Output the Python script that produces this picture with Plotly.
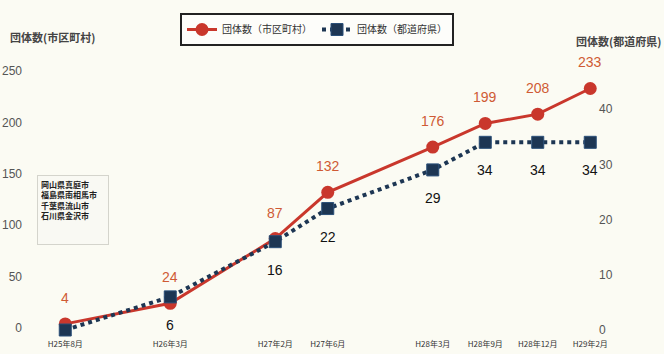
import plotly.graph_objects as go

# Survey points (category slots; blank slots keep the uneven spacing)
slots = ["H25年8月", "gap1", "H26年3月", "gap2", "H27年2月", "H27年6月", "gap3",
         "H28年3月", "H28年9月", "H28年12月", "H29年2月"]
periods = ["H25年8月", "H26年3月", "H27年2月", "H27年6月",
           "H28年3月", "H28年9月", "H28年12月", "H29年2月"]
municipalities = [4, 24, 87, 132, 176, 199, 208, 233]   # 団体数（市区町村）
prefectures = [0, 6, 16, 22, 29, 34, 34, 34]            # 団体数（都道府県）

left_ticks = [0, 50, 100, 150, 200, 250]
right_ticks = [0, 10, 20, 30, 40]

note_lines = ["岡山県真庭市", "福島県南相馬市", "千葉県流山市", "石川県金沢市"]

RED = "#c9372c"
RED_TXT = "#cf5a34"
NAVY = "#1d3653"
BG = "#fbfbf3"
NUM_FONT = "Liberation Sans, Arial, sans-serif"
JP_FONT = "Noto Sans CJK JP, sans-serif"

L, R, T, B = 39, 66, 40, 16
W, H = 664, 354
pw, ph = W - L - R, H - T - B
SLOT = 52.5  # pixel width of one category slot


def px_x(px):
    return (px - L) / pw


def px_y(py):
    return (H - B - py) / ph


fig = go.Figure()

fig.add_trace(go.Scatter(
    x=periods, y=municipalities, name="団体数（市区町村）",
    mode="lines+markers",
    line=dict(color=RED, width=3),
    marker=dict(symbol="circle", size=13, color=RED),
    cliponaxis=False,
))
fig.add_trace(go.Scatter(
    x=periods, y=prefectures, name="団体数（都道府県）", yaxis="y2",
    mode="lines+markers",
    line=dict(color=NAVY, width=4, dash="dot"),
    marker=dict(symbol="square", size=12, color=NAVY,
                line=dict(color="#2a4f78", width=1)),
    cliponaxis=False,
))

annotations = []
for p, v in zip(periods, municipalities):
    annotations.append(dict(
        x=p, y=v, xref="x", yref="y", text=str(v), showarrow=False,
        yshift=26, font=dict(family=NUM_FONT, size=14, color=RED_TXT)))
for p, v in list(zip(periods, prefectures))[1:]:
    annotations.append(dict(
        x=p, y=v, xref="x", yref="y2", text=str(v), showarrow=False,
        yshift=-28, font=dict(family=NUM_FONT, size=14, color="#111111")))

# axis titles
annotations.append(dict(
    x=px_x(8), y=px_y(37), xref="paper", yref="paper", xanchor="left",
    yanchor="middle", text="<b>団体数(市区町村)</b>", showarrow=False,
    font=dict(family=JP_FONT, size=11, color="#444444")))
annotations.append(dict(
    x=px_x(663), y=px_y(41), xref="paper", yref="paper", xanchor="right",
    yanchor="middle", text="<b>団体数(都道府県)</b>", showarrow=False,
    font=dict(family=JP_FONT, size=11, color="#444444")))

# note box
annotations.append(dict(
    x=px_x(37), y=px_y(175), xref="paper", yref="paper", xanchor="left",
    yanchor="top", text="<br>".join("<b>%s</b>" % s for s in note_lines),
    showarrow=False, align="left", valign="top", width=64, height=62,
    borderpad=3, bordercolor="#d4d4cc", borderwidth=1, bgcolor="#f9f9f3",
    font=dict(family=JP_FONT, size=8, color="#222222")))

x_hi = 10 + (pw - 10.5 * SLOT) / SLOT

fig.update_layout(
    width=W, height=H,
    margin=dict(l=L, r=R, t=T, b=B, autoexpand=False),
    paper_bgcolor=BG, plot_bgcolor=BG,
    showlegend=True,
    legend=dict(
        orientation="h", xref="container", yref="container",
        x=180 / W, y=1 - 13 / H, xanchor="left", yanchor="top",
        bordercolor="#222222", borderwidth=2, bgcolor="#fdfdfa",
        font=dict(family=JP_FONT, size=10, color="#333333"),
        itemwidth=30, tracegroupgap=0,
    ),
    xaxis=dict(
        type="category", categoryorder="array", categoryarray=slots,
        range=[-0.5, x_hi], tickvals=periods, ticktext=periods,
        showgrid=False, zeroline=False, showline=False, ticks="",
        tickfont=dict(family=JP_FONT, size=8, color="#333333"),
        automargin=False,
    ),
    yaxis=dict(
        range=[-10 / 1.028, 288 / 1.028], tickvals=left_ticks,
        showgrid=False, zeroline=False, showline=False, ticks="",
        ticklabelstandoff=16, automargin=False,
        tickfont=dict(family=NUM_FONT, size=12, color="#555555"),
    ),
    yaxis2=dict(
        overlaying="y", side="right",
        range=[-8 / 5.52, 290 / 5.52], tickvals=right_ticks,
        showgrid=False, zeroline=False, showline=False, ticks="",
        ticklabelstandoff=0, automargin=False,
        tickfont=dict(family=NUM_FONT, size=12, color="#555555"),
    ),
    annotations=annotations,
)

fig.write_html("out.html")
